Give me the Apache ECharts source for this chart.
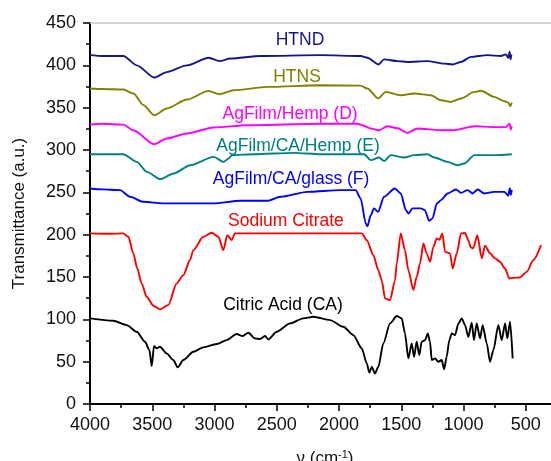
<!DOCTYPE html>
<html>
<head>
<meta charset="utf-8">
<title>FTIR</title>
<script src="https://cdn.jsdelivr.net/npm/echarts@6/dist/echarts.min.js"></script>
<style>
  html, body { margin: 0; padding: 0; background: #fff; }
  #chart { width: 551px; height: 461px; }
</style>
</head>
<body>
<div id="chart"></div>
<script>
// wavenumber (cm-1) / transmittance pairs
var htndWn = [4000, 3900, 3732, 3624, 3485, 3383, 3222, 3047, 2959, 2873, 2631, 2148, 1826, 1772, 1683, 1638, 1530, 1450, 1289, 1155, 1087, 1020, 940, 806, 698, 660, 640, 630, 622, 615];
var htndT = [412, 411, 411, 400, 385.6, 392, 400, 409, 405, 408, 411, 412, 411, 409, 401, 407, 405, 404, 405, 402, 401, 404, 410, 412, 411, 413, 409, 416, 407, 413];

var htnsWn = [4000, 3900, 3732, 3651, 3571, 3485, 3383, 3222, 3047, 2959, 2846, 2577, 2148, 1826, 1772, 1686, 1624, 1504, 1396, 1262, 1181, 1101, 1020, 913, 859, 752, 680, 640, 625, 612];
var htnsT = [372.6, 372, 371.4, 366.7, 353, 341, 349, 359.6, 369.8, 365.9, 370.6, 374.5, 376.5, 376, 372.6, 361, 368.6, 364.7, 366.7, 364.7, 358.8, 356.8, 360.8, 368.6, 370, 362.7, 358, 356, 352, 356];

var hempWn = [4000, 3900, 3732, 3651, 3485, 3383, 3222, 3007, 2738, 2148, 1850, 1812, 1745, 1678, 1611, 1530, 1450, 1369, 1181, 1074, 913, 752, 660, 630, 620, 612];
var hempT = [330, 331, 330, 323.4, 306.8, 313.6, 319.5, 326.6, 329.3, 331, 331, 329.3, 325.4, 323.4, 328.1, 325.7, 320.2, 325.4, 323.4, 323.4, 328.1, 327, 327, 331, 324, 328];

var caHempWn = [4000, 3733, 3624, 3543, 3436, 3329, 3195, 3007, 2927, 2886, 2860, 2685, 2363, 2148, 1799, 1745, 1678, 1638, 1584, 1477, 1396, 1289, 1235, 1128, 1047, 994, 913, 752, 612];
var caHempT = [295, 295, 286, 274.2, 265.5, 272.2, 282, 291.9, 286, 290, 294, 295, 296.6, 295, 295, 288, 291.2, 287.1, 293.9, 291.2, 293.9, 295, 291.2, 286, 282, 284, 293.9, 293.9, 295];

var glassWn = [4000, 3900, 3758, 3678, 3571, 3410, 3007, 2792, 2577, 2470, 2255, 1987, 1866, 1826, 1785, 1772, 1745, 1719, 1686, 1638, 1552, 1504, 1463, 1442, 1410, 1343, 1310, 1276, 1249, 1214, 1181, 1128, 1061, 1020, 967, 927, 886, 833, 752, 672, 640, 628, 620, 612];
var glassT = [254.6, 253.5, 252.6, 244.7, 238.8, 236.9, 236.9, 240, 240, 244.7, 250.6, 252.6, 252.6, 242.8, 213.2, 210, 223, 231, 227, 244.7, 254.6, 248.7, 229, 225, 231, 231, 229, 216.3, 219.2, 236.9, 240.8, 248.7, 253.4, 249.4, 252.6, 248.7, 253.4, 248.7, 250.6, 250.6, 246, 255, 247, 253];

var citrateWn = [4000, 3850, 3733, 3692, 3652, 3620, 3585, 3545, 3490, 3438, 3371, 3304, 3250, 3197, 3170, 3090, 3022, 2969, 2929, 2897, 2862, 2835, 2500, 1817, 1777, 1724, 1684, 1657, 1630, 1590, 1550, 1536, 1504, 1470, 1443, 1403, 1376, 1349, 1322, 1296, 1269, 1242, 1215, 1193, 1170, 1148, 1108, 1087, 1054, 1020, 988, 961, 942, 921, 889, 853, 827, 787, 747, 707, 666, 632, 600, 546, 492, 439, 377];
var citrateT = [201.5, 201, 201.5, 197.5, 177.9, 160, 142.4, 126.6, 116, 111.8, 116.8, 142.4, 152.2, 170, 181.7, 197.5, 202.2, 197.5, 181.7, 199.5, 193.5, 201.5, 201.5, 201.5, 193.5, 175.8, 158, 146.3, 124.7, 122.7, 146, 166, 201.5, 181.7, 158, 134.5, 150, 166, 189.7, 177.9, 168, 185.6, 195.6, 194, 201.5, 179.7, 177.9, 160, 178, 201.5, 202, 193.5, 185, 184, 199.5, 172, 187, 178, 172, 168, 160, 148.3, 149, 149.5, 156, 170, 187.6];

var acidWn = [4000, 3813, 3705, 3625, 3558, 3523, 3504, 3486, 3464, 3438, 3384, 3331, 3296, 3250, 3170, 3090, 2982, 2902, 2822, 2773, 2728, 2675, 2634, 2594, 2568, 2500, 2393, 2287, 2206, 2072, 1965, 1885, 1817, 1777, 1756, 1737, 1711, 1684, 1644, 1590, 1536, 1496, 1470, 1443, 1416, 1397, 1376, 1355, 1336, 1309, 1287, 1269, 1255, 1229, 1202, 1175, 1156, 1135, 1114, 1094, 1068, 1041, 1014, 988, 961, 934, 916, 894, 867, 846, 813, 787, 760, 720, 693, 666, 648, 626, 605];
var acidT = [101.1, 98.3, 93.2, 85.3, 73.5, 63.7, 44.8, 68.5, 65.7, 67.6, 59.8, 51.9, 43.3, 51.9, 61.7, 66.9, 70.8, 75.5, 82.6, 80.3, 84.2, 77.5, 76.7, 80.3, 76.3, 85.3, 95.2, 101.1, 103, 99.1, 91.2, 81.4, 65.7, 48, 36.9, 44, 36.2, 44, 71.6, 95.2, 103.9, 101, 83.4, 53.9, 71.6, 55.8, 73.5, 57.8, 73.5, 75.5, 83.4, 73.5, 51.9, 53.9, 49.9, 51.9, 41, 55.8, 75.5, 83.4, 81.4, 95.2, 101, 93.2, 79.4, 96, 75.5, 95.2, 77.5, 93.2, 71.6, 49.9, 63.7, 93.2, 75.5, 95.2, 77.5, 97.2, 53.9];

var names = ['HTND', 'HTNS', 'AgFilm/Hemp (D)', 'AgFilm/CA/Hemp (E)', 'AgFilm/CA/glass (F)', 'Sodium Citrate', 'Citric Acid (CA)'];
var colors = ['#14148c', '#808000', '#ff00ff', '#008080', '#0000ff', '#ff0000', '#000000'];
// label anchor points [wavenumber, transmittance]
var labelPos = [[2313, 430], [2337, 386], [2393, 342], [2329, 304.5], [2385, 265.5], [2426, 216], [2450, 117]];

var xTicks = [4000, 3500, 3000, 2500, 2000, 1500, 1000, 500];

function pairs(wn, t) {
    return wn.map(function (w, i) { return [w, t[i]]; });
}

var allData = [
    pairs(htndWn, htndT),
    pairs(htnsWn, htnsT),
    pairs(hempWn, hempT),
    pairs(caHempWn, caHempT),
    pairs(glassWn, glassT),
    pairs(citrateWn, citrateT),
    pairs(acidWn, acidT)
];

var font = 'Liberation Sans, Arial, sans-serif';
var myChart = echarts.init(document.getElementById('chart'));

var option = {
    animation: false,
    grid: { left: 90, right: -37, top: 23, bottom: 57, outerBoundsMode: 'none', containLabel: false },
    xAxis: [{
        type: 'value',
        inverse: true,
        min: 0,
        max: 4000,
        interval: 500,
        axisLine: { onZero: false, lineStyle: { color: '#000', width: 2 } },
        axisTick: { length: 7, lineStyle: { color: '#000', width: 1.5 } },
        minorTick: { show: true, splitNumber: 2, length: 4, lineStyle: { color: '#000', width: 1.5 } },
        splitLine: { show: false },
        axisLabel: {
            color: '#111', fontSize: 18, fontFamily: font, margin: 12,
            formatter: function (v) { return xTicks.indexOf(v) >= 0 ? String(v) : ''; }
        }
    }, {
        type: 'value',
        position: 'top',
        inverse: true,
        min: 0,
        max: 4000,
        axisLine: { show: true, onZero: false, lineStyle: { color: '#c8c8c8', width: 1.5 } },
        axisTick: { show: false },
        axisLabel: { show: false },
        splitLine: { show: false }
    }],
    yAxis: {
        type: 'value',
        min: 0,
        max: 450,
        interval: 50,
        name: 'Transmittance (a.u.)',
        nameLocation: 'middle',
        nameGap: 62,
        nameTextStyle: { color: '#111', fontSize: 17, fontFamily: font },
        axisLine: { show: true, onZero: false, lineStyle: { color: '#000', width: 2 } },
        axisTick: { show: true, length: 7, lineStyle: { color: '#000', width: 1.5 } },
        minorTick: { show: true, splitNumber: 2, length: 4, lineStyle: { color: '#000', width: 1.5 } },
        splitLine: { show: false },
        axisLabel: { color: '#111', fontSize: 18, fontFamily: font, margin: 14 }
    },
    series: names.map(function (n, i) {
        return {
            name: n,
            type: 'line',
            data: allData[i],
            showSymbol: false,
            smooth: 0.25,
            smoothMonotone: 'x',
            lineStyle: { color: colors[i], width: 1.9 },
            itemStyle: { color: colors[i] }
        };
    })
};
myChart.setOption(option);

var texts = names.map(function (n, i) {
    var p = myChart.convertToPixel({ gridIndex: 0 }, labelPos[i]);
    return {
        type: 'text',
        x: p[0],
        y: p[1],
        style: {
            text: n,
            fill: colors[i],
            font: '17.5px ' + font,
            textAlign: 'center',
            textVerticalAlign: 'middle'
        }
    };
});
texts.push({
    type: 'text',
    x: 325,
    y: 449,
    style: {
        text: '{a|ν (cm}{s|-1}{a|)}',
        rich: {
            a: { fontSize: 17, fontFamily: font, fill: '#111', color: '#111' },
            s: { fontSize: 11, fontFamily: font, fill: '#111', color: '#111', verticalAlign: 'top', padding: [0, 0, 8, 0] }
        },
        textAlign: 'center',
        textVerticalAlign: 'top'
    }
});
myChart.setOption({ graphic: texts });
</script>
</body>
</html>
